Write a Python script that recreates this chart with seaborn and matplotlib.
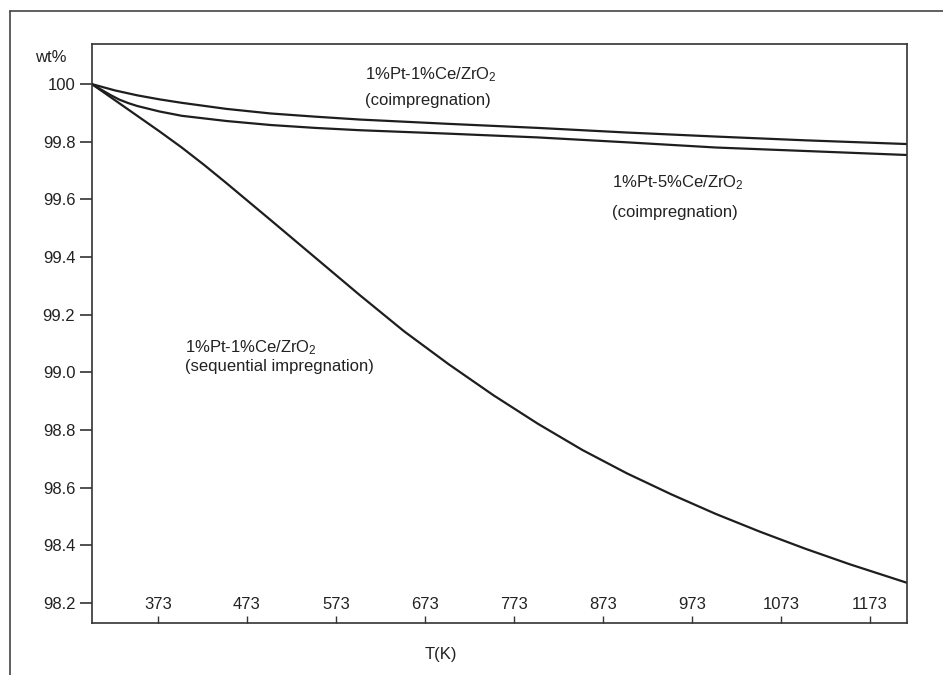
import matplotlib
matplotlib.use("Agg")
import matplotlib.pyplot as plt
import seaborn as sns
import pandas as pd
from matplotlib.lines import Line2D

# ---- data ----
t_seq = [299, 325, 350, 375, 400, 425, 450, 500, 550, 600, 650, 700, 750, 800, 850, 900, 950, 1000, 1050, 1100, 1150, 1215]
wt_seq = [100.0, 99.944, 99.890, 99.836, 99.780, 99.720, 99.657, 99.528, 99.398, 99.268, 99.142, 99.028,
          98.921, 98.822, 98.731, 98.650, 98.577, 98.509, 98.447, 98.389, 98.335, 98.270]

t_co1 = [299, 325, 350, 375, 400, 450, 500, 550, 600, 700, 800, 900, 1000, 1100, 1215]
wt_co1 = [100.0, 99.978, 99.961, 99.947, 99.935, 99.914, 99.898, 99.887, 99.877, 99.862, 99.848, 99.832,
          99.818, 99.805, 99.792]

t_co5 = [299, 310, 320, 330, 340, 350, 375, 400, 450, 500, 550, 600, 700, 800, 900, 1000, 1100, 1215]
wt_co5 = [100.0, 99.98, 99.962, 99.946, 99.934, 99.924, 99.905, 99.890, 99.872, 99.858, 99.848, 99.840,
          99.828, 99.815, 99.798, 99.780, 99.768, 99.754]

x_ticks = [373, 473, 573, 673, 773, 873, 973, 1073, 1173]
y_ticks = [98.2, 98.4, 98.6, 98.8, 99.0, 99.2, 99.4, 99.6, 99.8, 100.0]
y_tick_labels = ["98.2", "98.4", "98.6", "98.8", "99.0", "99.2", "99.4", "99.6", "99.8", "100"]

sns.set_style("white")
plt.rcParams["font.family"] = ["Liberation Sans", "DejaVu Sans"]
plt.rcParams["mathtext.fontset"] = "custom"
plt.rcParams["mathtext.rm"] = "Liberation Sans"
plt.rcParams["mathtext.default"] = "regular"

W, H = 943, 675
fig = plt.figure(figsize=(W / 100, H / 100), dpi=100)
ax = fig.add_axes([92 / W, 1 - 623 / H, (907 - 92) / W, (623 - 44) / H])

line_col = "#1e1e1e"
df_seq = pd.DataFrame({"T": t_seq, "wt": wt_seq})
df_co1 = pd.DataFrame({"T": t_co1, "wt": wt_co1})
df_co5 = pd.DataFrame({"T": t_co5, "wt": wt_co5})
for d in (df_seq, df_co1, df_co5):
    sns.lineplot(data=d, x="T", y="wt", ax=ax, color=line_col, linewidth=1.6)

ax.set_xlim(299.2, 1214.6)
ax.set_ylim(98.131, 100.139)
ax.set_xlabel("")
ax.set_ylabel("")

ax.set_xticks(x_ticks)
ax.set_xticklabels([str(v) for v in x_ticks])
ax.set_yticks(y_ticks)
ax.set_yticklabels(y_tick_labels)

spine_col = "#333333"
for s in ax.spines.values():
    s.set_color(spine_col)
    s.set_linewidth(1.2)

ax.tick_params(axis="x", direction="in", length=5, width=1.0, color=spine_col,
               labelsize=12, pad=-18.7, labelcolor="#222222", bottom=True)
ax.tick_params(axis="y", direction="out", length=9, width=1.2, color=spine_col,
               labelsize=12, pad=3, labelcolor="#222222", left=True)

# annotations
fs = 12
tc = "#222222"
def px(x, y):
    return x / W, 1 - y / H
fig.text(*px(365, 75), "1%Pt-1%Ce/ZrO$_2$", fontsize=fs, color=tc, va="center", ha="left")
fig.text(*px(365, 101), "(coimpregnation)", fontsize=fs, color=tc, va="center", ha="left")
fig.text(*px(612, 183), "1%Pt-5%Ce/ZrO$_2$", fontsize=fs, color=tc, va="center", ha="left")
fig.text(*px(612, 212), "(coimpregnation)", fontsize=fs, color=tc, va="center", ha="left")
fig.text(*px(185, 348), "1%Pt-1%Ce/ZrO$_2$", fontsize=fs, color=tc, va="center", ha="left")
fig.text(*px(185, 366), "(sequential impregnation)", fontsize=fs, color=tc, va="center", ha="left")

fig.text(*px(35, 58), "wt%", fontsize=fs, color=tc, va="center", ha="left")
fig.text(*px(441, 654), "T(K)", fontsize=fs, color=tc, va="center", ha="center")

# outer frame (left and top edges)
fig.add_artist(Line2D([10 / W, 10 / W], [0, 1 - 11 / H], transform=fig.transFigure,
                      color="#444444", linewidth=1.2))
fig.add_artist(Line2D([10 / W, 1], [1 - 11 / H, 1 - 11 / H], transform=fig.transFigure,
                      color="#444444", linewidth=1.2))

fig.savefig("out.png", dpi=100)
